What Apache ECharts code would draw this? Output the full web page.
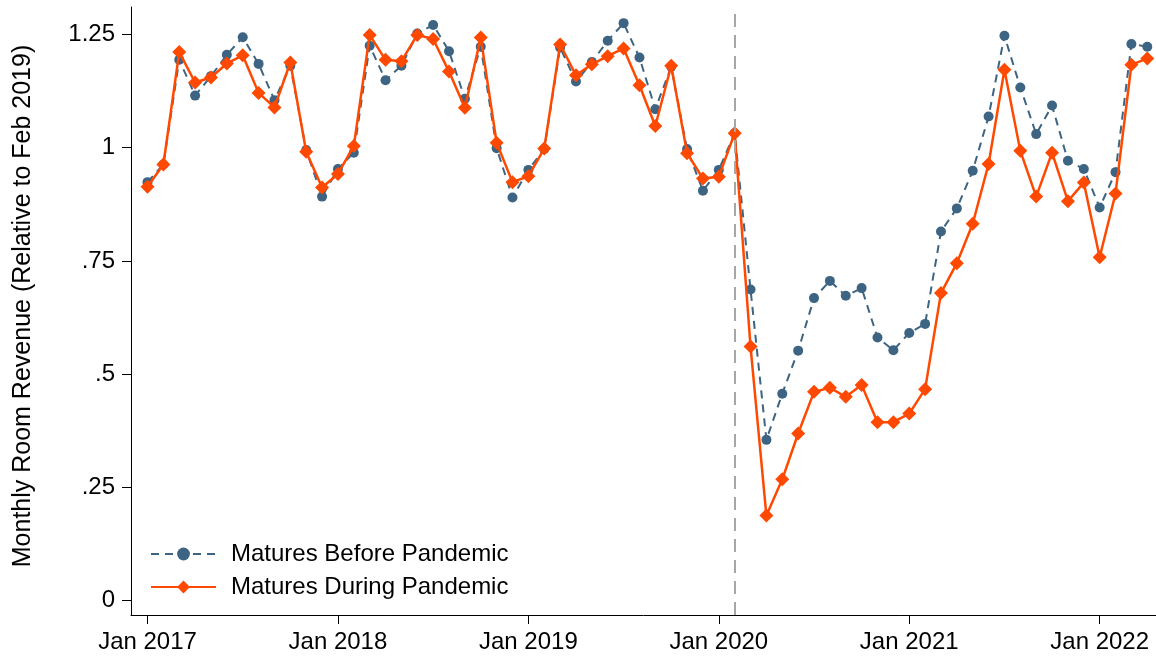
<!DOCTYPE html>
<html>
<head>
<meta charset="utf-8">
<title>Monthly Room Revenue</title>
<script src="https://cdn.jsdelivr.net/npm/echarts@6/dist/echarts.min.js"></script>
<style>
  html, body { margin: 0; padding: 0; background: #ffffff; }
  #chart { width: 1156px; height: 657px; }
</style>
</head>
<body>
<div id="chart"></div>
<script>
// Monthly room revenue relative to Feb 2019, Jan 2017 (month 0) to Apr 2022 (month 63)
const maturesBefore = [
  0.924, 0.963, 1.194, 1.115, 1.158, 1.205, 1.244, 1.185, 1.105, 1.181, 0.995, 0.892,
  0.953, 0.989, 1.225, 1.149, 1.181, 1.252, 1.271, 1.213, 1.108, 1.223, 0.999, 0.890,
  0.951, 0.997, 1.221, 1.146, 1.189, 1.236, 1.275, 1.199, 1.085, 1.179, 0.997, 0.905,
  0.951, 1.032, 0.687, 0.355, 0.457, 0.552, 0.668, 0.706, 0.673, 0.690, 0.581, 0.553,
  0.591, 0.611, 0.815, 0.866, 0.949, 1.069, 1.247, 1.133, 1.030, 1.093, 0.971, 0.953,
  0.868, 0.946, 1.229, 1.223
];
const maturesDuring = [
  0.914, 0.963, 1.211, 1.144, 1.155, 1.186, 1.204, 1.121, 1.089, 1.188, 0.991, 0.912,
  0.942, 1.004, 1.249, 1.194, 1.191, 1.249, 1.240, 1.168, 1.088, 1.243, 1.011, 0.924,
  0.937, 0.998, 1.228, 1.160, 1.184, 1.202, 1.219, 1.138, 1.048, 1.181, 0.988, 0.932,
  0.936, 1.032, 0.561, 0.188, 0.268, 0.369, 0.461, 0.470, 0.450, 0.476, 0.394, 0.394,
  0.413, 0.467, 0.679, 0.745, 0.832, 0.964, 1.172, 0.993, 0.892, 0.989, 0.882, 0.923,
  0.758, 0.899, 1.183, 1.197
];
const seriesNames = ['Matures Before Pandemic', 'Matures During Pandemic'];
const xTickMonths = [0, 12, 24, 36, 48, 60];
const xTickLabels = ['Jan 2017', 'Jan 2018', 'Jan 2019', 'Jan 2020', 'Jan 2021', 'Jan 2022'];
const yTickValues = [0, 0.25, 0.5, 0.75, 1, 1.25];
const yTickLabels = ['0', '.25', '.5', '.75', '1', '1.25'];
const pandemicMonth = 37; // Feb 2020
const yAxisTitle = 'Monthly Room Revenue (Relative to Feb 2019)';

const FONT = "'Liberation Sans', Arial, Helvetica, sans-serif";
const BLUE = '#3d6482';
const ORANGE = '#ff4800';

const toPoints = arr => arr.map((v, i) => [i, v]);

const chart = echarts.init(document.getElementById('chart'), null, { renderer: 'canvas' });

chart.setOption({
  animation: false,
  backgroundColor: '#ffffff',
  textStyle: { fontFamily: FONT },
  grid: { left: 131, right: 0, top: 7, bottom: 42, outerBoundsMode: 'none' },
  legend: {
    orient: 'vertical',
    left: 150,
    top: 541,
    padding: 0,
    itemWidth: 65,
    itemHeight: 16,
    itemGap: 7,
    textStyle: { fontSize: 24, color: '#000', fontFamily: FONT, lineHeight: 26, padding: [0, 0, 0, 10] },
    data: seriesNames
  },
  xAxis: {
    type: 'value',
    min: -1.04,
    max: 63.55,
    splitLine: { show: false },
    axisLine: { show: true, onZero: false, lineStyle: { color: '#000', width: 1 } },
    axisTick: { show: true, length: 9, lineStyle: { color: '#000' }, customValues: xTickMonths },
    axisLabel: {
      color: '#000', fontSize: 24, fontFamily: FONT, margin: 15,
      customValues: xTickMonths,
      formatter: v => xTickLabels[xTickMonths.indexOf(Math.round(v))] || ''
    }
  },
  yAxis: {
    type: 'value',
    min: -0.0316,
    max: 1.3106,
    name: yAxisTitle,
    nameLocation: 'middle',
    nameGap: 95,
    nameTextStyle: { fontSize: 25, color: '#000', fontFamily: FONT, padding: [0, 0, 0, 10] },
    splitLine: { show: false },
    axisLine: { show: true, onZero: false, lineStyle: { color: '#000', width: 1 } },
    axisTick: { show: true, length: 9, lineStyle: { color: '#000' }, customValues: yTickValues },
    axisLabel: {
      color: '#000', fontSize: 24, fontFamily: FONT, margin: 16,
      customValues: yTickValues,
      formatter: v => {
        const k = yTickValues.findIndex(t => Math.abs(t - v) < 1e-6);
        return k >= 0 ? yTickLabels[k] : '';
      }
    }
  },
  series: [
    {
      name: seriesNames[0],
      type: 'line',
      data: toPoints(maturesBefore),
      symbol: 'circle',
      symbolSize: 10,
      showAllSymbol: true,
      itemStyle: { color: BLUE },
      lineStyle: { color: BLUE, width: 2, type: [8, 6] },
      z: 2,
      markLine: {
        silent: true,
        symbol: 'none',
        label: { show: false },
        lineStyle: { color: '#a6a6a6', width: 2, type: [13, 8] },
        data: [{ xAxis: pandemicMonth }]
      }
    },
    {
      name: seriesNames[1],
      type: 'line',
      data: toPoints(maturesDuring),
      symbol: 'diamond',
      symbolSize: 14,
      showAllSymbol: true,
      itemStyle: { color: ORANGE },
      lineStyle: { color: ORANGE, width: 2.5 },
      z: 3
    }
  ]
});
</script>
</body>
</html>
